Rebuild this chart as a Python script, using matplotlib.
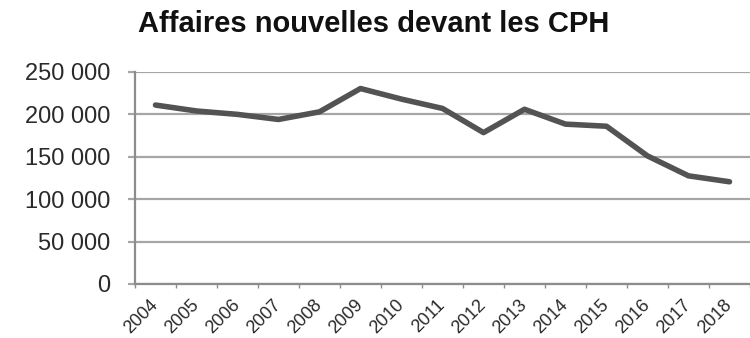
import matplotlib
matplotlib.use("Agg")
import matplotlib.pyplot as plt
from matplotlib.ticker import FuncFormatter
from matplotlib.transforms import ScaledTranslation

# Nouvelles affaires enregistrées devant les conseils de prud'hommes
years = ["2004", "2005", "2006", "2007", "2008", "2009", "2010", "2011",
         "2012", "2013", "2014", "2015", "2016", "2017", "2018"]
affaires = [211000, 204000, 200000, 194000, 203000, 230500, 218000, 207000,
            178500, 206000, 188500, 186000, 151000, 127500, 120500]
y_ticks = [0, 50000, 100000, 150000, 200000, 250000]

plt.rcParams["font.family"] = ["Liberation Sans", "DejaVu Sans"]

fig = plt.figure(figsize=(7.5, 3.38), dpi=100)
ax = fig.add_axes([0.18, 0.16, 0.82, 0.627])

x = list(range(len(years)))
ax.plot(x, affaires, color="#535353", linewidth=4.0, solid_joinstyle="round",
        solid_capstyle="round", zorder=3)

ax.set_ylim(0, 250000)
ax.set_xlim(-0.5, -0.5 + 615 / 41.3)
ax.set_yticks(y_ticks)
ax.yaxis.set_major_formatter(FuncFormatter(lambda v, p: f"{int(v):,}".replace(",", " ")))
ax.grid(axis="y", color="#a6a6a6", linewidth=1.6, zorder=1)
ax.set_axisbelow(True)

# category labels centred, tick marks on category boundaries
ax.set_xticks(x)
ax.set_xticklabels(years, rotation=45, ha="right", va="center", rotation_mode="anchor",
                   fontsize=13, color="#2a2a2a")
shift = ScaledTranslation(-3 / 72, 0, fig.dpi_scale_trans)
for lbl in ax.get_xticklabels():
    lbl.set_transform(lbl.get_transform() + shift)
ax.tick_params(axis="x", which="major", length=0, pad=13.5)
ax.set_xticks([i - 0.5 for i in range(len(years) + 1)], minor=True)
ax.tick_params(axis="x", which="minor", length=3, width=1, color="#8c8c8c", direction="out")
ax.tick_params(axis="y", length=5, width=1.6, color="#a6a6a6", labelsize=17,
               labelcolor="#2a2a2a", pad=13)

for side in ("top", "right"):
    ax.spines[side].set_visible(False)
ax.spines["left"].set_color("#8c8c8c")
ax.spines["left"].set_linewidth(1.6)
ax.spines["bottom"].set_color("#8c8c8c")
ax.spines["bottom"].set_linewidth(1.6)

fig.text(0.4987, 0.906, "Affaires nouvelles devant les CPH", ha="center", va="baseline",
         fontsize=21, fontweight="bold", color="#111111")

fig.savefig("out.png", dpi=100)
